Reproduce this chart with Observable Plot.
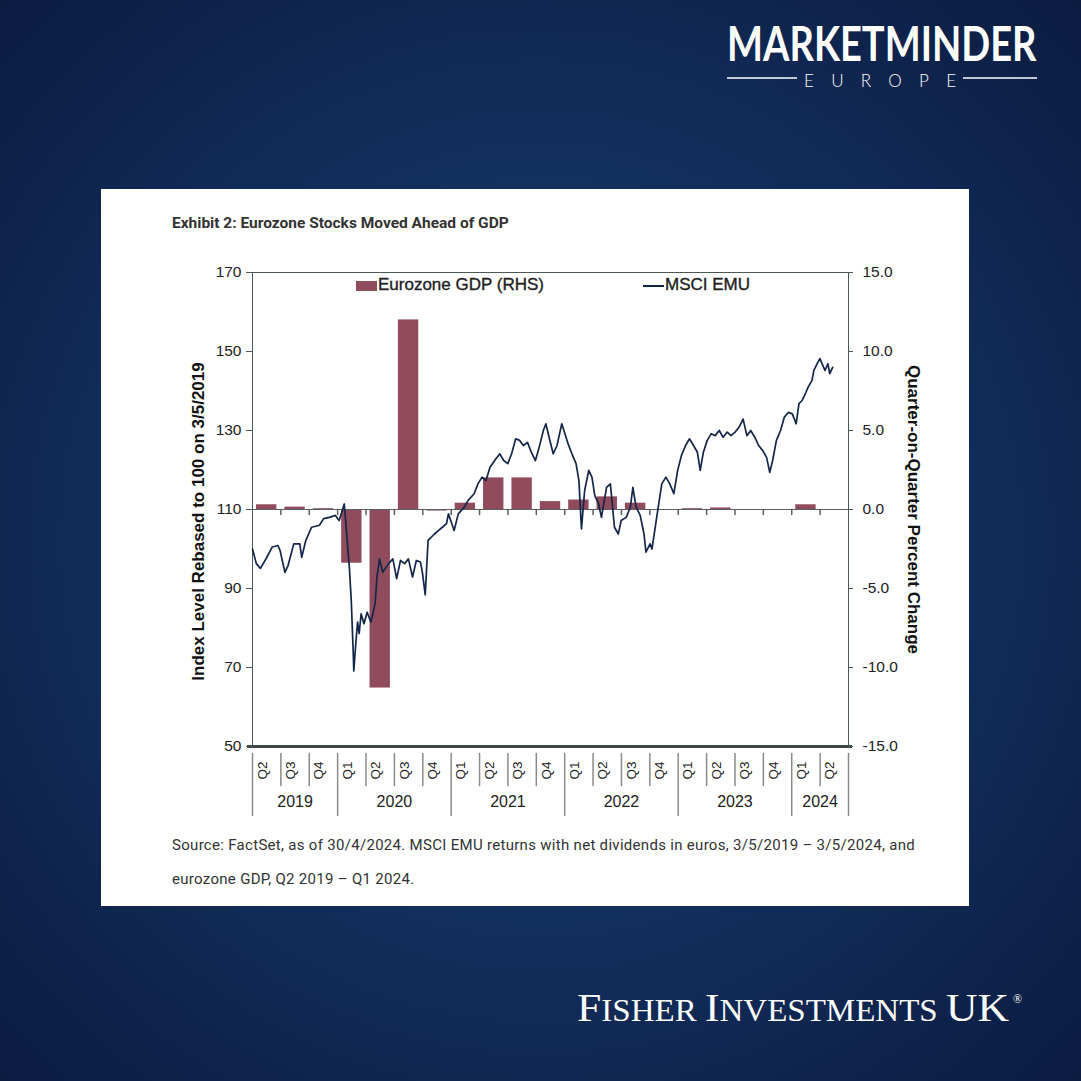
<!DOCTYPE html>
<html>
<head>
<meta charset="utf-8">
<script src="https://cdn.jsdelivr.net/npm/d3@7"></script>
<script src="https://cdn.jsdelivr.net/npm/@observablehq/plot@0.6"></script>
<style>
  html, body { margin: 0; padding: 0; }
  #page {
    position: relative; width: 1081px; height: 1081px; overflow: hidden;
    background: radial-gradient(ellipse at 50% 50%, #1b3b6d 0%, #153364 40%, #0e244d 78%, #0b1c41 100%);
  }
  .abs { position: absolute; }
  #panel { left: 101px; top: 189px; width: 868px; height: 717px; background: #ffffff; }
  #title { left: 172px; top: 214px; font-family: Roboto, "Liberation Sans", sans-serif; font-weight: 700; font-size: 15.5px; color: #333; white-space: nowrap; }
  #caption { left: 172px; top: 828px; font-family: Roboto, "Liberation Sans", sans-serif; font-size: 15px; line-height: 34px; color: #333; white-space: nowrap; letter-spacing: 0.3px; }
  .leg { font-family: "Liberation Sans", Arial, sans-serif; font-size: 17px; color: #222; white-space: nowrap; -webkit-text-stroke: 0.35px #222; }
</style>
</head>
<body>
<div id="page">
  <svg class="abs" style="left:0;top:0" width="1081" height="1081">
    <text transform="translate(727,61) scale(0.8,1)" x="0" y="0" fill="#ffffff" font-family="Lato, 'Open Sans', sans-serif" font-weight="700" font-size="47" textLength="387" lengthAdjust="spacingAndGlyphs">MARKETMINDER</text>
    <line x1="727" y1="78" x2="797" y2="78" stroke="#ffffff" stroke-width="1.3"/>
    <line x1="963" y1="78" x2="1037" y2="78" stroke="#ffffff" stroke-width="1.3"/>
    <text x="804" y="87" fill="#ffffff" font-family="Lato, 'Open Sans', sans-serif" font-weight="300" font-size="17" textLength="152" lengthAdjust="spacing">EUROPE</text>
    <text x="577" y="1021" fill="#ffffff" font-family="'Liberation Serif', 'DejaVu Serif', serif" textLength="432" lengthAdjust="spacingAndGlyphs"><tspan font-size="41">F</tspan><tspan font-size="31">ISHER </tspan><tspan font-size="41">I</tspan><tspan font-size="31">NVESTMENTS </tspan><tspan font-size="41">UK</tspan></text>
    <text x="1013" y="1003" fill="#ffffff" font-family="'Liberation Serif', serif" font-size="12">®</text>
  </svg>
  <div id="panel" class="abs"></div>
  <div id="title" class="abs">Exhibit 2: Eurozone Stocks Moved Ahead of GDP</div>
  <div id="chartA" class="abs" style="left:101px;top:250px"></div>
  <div id="chartB" class="abs" style="left:101px;top:250px"></div>
  <div class="abs" style="left:356px;top:281px;width:21px;height:10px;background:#904c5d"></div>
  <div class="abs leg" style="left:378px;top:275px">Eurozone GDP (RHS)</div>
  <div class="abs" style="left:643px;top:285px;width:21px;height:2px;background:#14264a"></div>
  <div class="abs leg" style="left:665px;top:275px">MSCI EMU</div>
  <div id="caption" class="abs">Source: FactSet, as of 30/4/2024. MSCI EMU returns with net dividends in euros, 3/5/2019 – 3/5/2024, and<br>eurozone GDP, Q2 2019 – Q1 2024.</div>
</div>
<script>
// ---------- data ----------
const quarterLabels = ["Q2","Q3","Q4","Q1","Q2","Q3","Q4","Q1","Q2","Q3","Q4","Q1","Q2","Q3","Q4","Q1","Q2","Q3","Q4","Q1","Q2"];
const quarterYears  = ["2019","2019","2019","2020","2020","2020","2020","2021","2021","2021","2021","2022","2022","2022","2022","2023","2023","2023","2023","2024","2024"];
const yearLabels = ["2019","2020","2021","2022","2023","2024"];
// Eurozone GDP, quarter-on-quarter % change, Q2 2019 – Q1 2024
const gdpValues = [0.3, 0.15, 0.05, -3.4, -11.3, 12.0, -0.1, 0.4, 2.0, 2.0, 0.5, 0.6, 0.8, 0.4, 0.0, 0.05, 0.1, -0.05, -0.05, 0.3];
const leftTicks = [50, 70, 90, 110, 130, 150, 170];
const rightTicks = [-15, -10, -5, 0, 5, 10, 15];
const leftTitle = "Index Level Rebased to 100 on 3/5/2019";
const rightTitle = "Quarter-on-Quarter Percent Change";
// MSCI EMU, rebased to 100 on 3/5/2019
const msciDates = ["2019-05-03","2019-05-15","2019-05-28","2019-06-15","2019-07-04","2019-07-22","2019-07-29","2019-08-13","2019-08-23","2019-09-10","2019-09-29","2019-10-05","2019-10-18","2019-11-05","2019-11-30","2019-12-13","2019-12-31","2020-01-19","2020-01-31","2020-02-16","2020-03-03","2020-03-09","2020-03-15","2020-03-17","2020-03-24","2020-03-29","2020-04-03","2020-04-09","2020-04-18","2020-04-28","2020-05-10","2020-05-23","2020-05-29","2020-06-06","2020-06-16","2020-07-05","2020-07-18","2020-07-30","2020-08-11","2020-08-24","2020-09-05","2020-09-18","2020-09-30","2020-10-13","2020-10-19","2020-10-28","2020-11-06","2020-11-26","2020-12-09","2020-12-21","2021-01-03","2021-01-09","2021-01-27","2021-02-09","2021-02-28","2021-03-12","2021-03-31","2021-04-12","2021-04-25","2021-05-07","2021-05-20","2021-06-07","2021-06-20","2021-07-02","2021-07-15","2021-07-27","2021-08-09","2021-08-21","2021-09-02","2021-09-15","2021-09-27","2021-10-10","2021-10-22","2021-11-04","2021-11-12","2021-11-22","2021-12-05","2021-12-17","2022-01-01","2022-01-11","2022-01-21","2022-02-02","2022-02-15","2022-02-24","2022-03-04","2022-03-14","2022-03-27","2022-04-06","2022-04-15","2022-04-27","2022-05-06","2022-05-22","2022-06-03","2022-06-16","2022-06-28","2022-07-07","2022-07-23","2022-08-05","2022-08-13","2022-08-23","2022-09-05","2022-09-17","2022-09-23","2022-10-06","2022-10-12","2022-10-24","2022-11-04","2022-11-12","2022-11-25","2022-12-07","2022-12-20","2023-01-01","2023-01-13","2023-01-26","2023-02-07","2023-02-20","2023-03-04","2023-03-13","2023-03-23","2023-04-04","2023-04-17","2023-04-29","2023-05-12","2023-05-24","2023-06-06","2023-06-18","2023-07-01","2023-07-13","2023-07-26","2023-08-07","2023-08-19","2023-09-01","2023-09-13","2023-09-26","2023-10-08","2023-10-18","2023-10-27","2023-11-08","2023-11-21","2023-12-03","2023-12-16","2023-12-28","2024-01-09","2024-01-18","2024-01-28","2024-02-07","2024-02-16","2024-02-28","2024-03-05","2024-03-15","2024-03-24","2024-04-02","2024-04-09","2024-04-18","2024-04-24","2024-05-03"];
const msciValues = [100.0,96.3,95.1,97.6,100.5,100.9,99.6,94.1,95.8,101.3,101.3,97.9,102.2,105.5,106,107.7,108,108.5,107.2,111.4,95.4,87.0,74.3,69.1,76.8,81.5,78.6,83.6,81.1,84,81.5,86.1,92.9,97.5,94.1,96.3,97.5,92.5,97.1,96.3,97.5,92.9,97.1,96.7,94.1,88.4,102.2,103.8,104.7,105.5,106.4,108.9,104.7,108.9,110.6,112.3,114,116.5,118.2,117.3,120.7,122.8,124.1,122.4,121.6,124.1,127.9,127.5,126.2,127,124.5,122.4,125.8,130,131.7,128.3,124.1,126.2,131.7,129.2,126.6,124.1,121.6,117.3,105.1,114.8,119.9,118.2,113.5,111.4,108,115.6,116.5,105.5,103.8,107.2,108,110.6,115.6,110.6,108.5,103.8,99.2,101.3,100,106.4,112.3,116.5,118.2,116.5,114,119.9,123.7,126.2,127.9,126.2,124.5,119.9,124.5,127.5,129.2,128.7,130,128.3,129.6,128.7,129.6,130.8,132.9,128.7,130,128.3,126.2,124.9,123.2,119.4,122.4,127.5,130,133.4,134.6,134.2,131.7,136.8,137.6,139.3,141,142.7,145.2,146.9,148.2,146.5,145.2,146.9,144.4,146];
const lineDomain = ["2019-05-03", "2024-06-22"];

// ---------- derived ----------
const msci = msciDates.map((d, i) => ({date: new Date(d), value: msciValues[i]}));
const qIdx = quarterLabels.map((_, i) => i);
const boundaries = d3.range(quarterLabels.length + 1);
const yearDivs = boundaries.filter(i => i === 0 || i === quarterLabels.length || quarterLabels[i] === "Q1");
const quarterDivs = boundaries.filter(i => !yearDivs.includes(i));
const yearCenters = yearLabels.map(y => {
  const idx = qIdx.filter(i => quarterYears[i] === y);
  return {year: y, x: (idx[0] + idx[idx.length - 1] + 1) / 2};
});

const W = 868, H = 576, ML = 151, MR = 121, MT = 22, MB = 80;
const font = "'Liberation Sans', Arial, sans-serif";
const stick = {draw(ctx, l) { ctx.moveTo(0, 0); ctx.lineTo(0, -l); }};

const chartA = Plot.plot({
  width: W, height: H, marginLeft: ML, marginRight: MR, marginTop: MT, marginBottom: MB,
  style: {background: "transparent", fontFamily: font, color: "#222", overflow: "visible"},
  x: {domain: [0, quarterLabels.length], axis: null},
  y: {domain: [-15, 15], axis: null},
  marks: [
    Plot.rect(gdpValues, {x1: (d, i) => i, x2: (d, i) => i + 1, y1: 0, y2: d => d, insetLeft: 4, insetRight: 4, fill: "#904c5d"}),
    Plot.ruleY([0], {stroke: "#5a5f60", strokeWidth: 1}),
    Plot.vector(boundaries.slice(1, -1), {x: d => d, y: () => 0, length: 5, rotate: 180, anchor: "start", shape: stick, stroke: "#5a5f60"}),
    Plot.frame({stroke: "#4d5955", strokeWidth: 1}),
    Plot.ruleY([-15], {stroke: "#3c4a47", strokeWidth: 3, insetLeft: -5, insetRight: -4}),
    Plot.axisY({anchor: "right", ticks: rightTicks, tickSize: 4, tickPadding: 10, tickFormat: d => d.toFixed(1), fontSize: 15.5, label: null, stroke: "#4d5955"}),
    Plot.vector(quarterDivs, {x: d => d, frameAnchor: "bottom", dy: 7, length: 32, rotate: 180, anchor: "start", shape: stick, stroke: "#8a8a8a"}),
    Plot.vector(yearDivs, {x: d => d, frameAnchor: "bottom", dy: 7, length: 62, rotate: 180, anchor: "start", shape: stick, stroke: "#8a8a8a"}),
    Plot.text(qIdx, {x: i => i + 0.5, text: i => quarterLabels[i], frameAnchor: "bottom", dy: 24, rotate: -90, fontSize: 13.5, fill: "#222"}),
    Plot.text(yearCenters, {x: "x", text: "year", frameAnchor: "bottom", dy: 60, fontSize: 16, fill: "#222"}),
    Plot.text([rightTitle], {frameAnchor: "right", dx: 65, rotate: 90, textAnchor: "middle", fontWeight: "bold", fontSize: 17, fill: "#111"})
  ]
});
document.getElementById("chartA").appendChild(chartA);

const chartB = Plot.plot({
  width: W, height: H, marginLeft: ML, marginRight: MR, marginTop: MT, marginBottom: MB,
  style: {background: "transparent", fontFamily: font, color: "#222", overflow: "visible"},
  x: {type: "utc", domain: lineDomain.map(d => new Date(d)), axis: null},
  y: {domain: [50, 170], axis: null},
  marks: [
    Plot.lineY(msci, {x: "date", y: "value", stroke: "#14264a", strokeWidth: 1.7, strokeLinejoin: "round"}),
    Plot.axisY({anchor: "left", ticks: leftTicks, tickSize: 6, tickPadding: 5, fontSize: 15.5, label: null, stroke: "#4d5955"}),
    Plot.text([leftTitle], {frameAnchor: "left", dx: -54, dy: 12, rotate: -90, textAnchor: "middle", fontWeight: "bold", fontSize: 17, fill: "#111"})
  ]
});
document.getElementById("chartB").appendChild(chartB);
</script>
</body>
</html>
